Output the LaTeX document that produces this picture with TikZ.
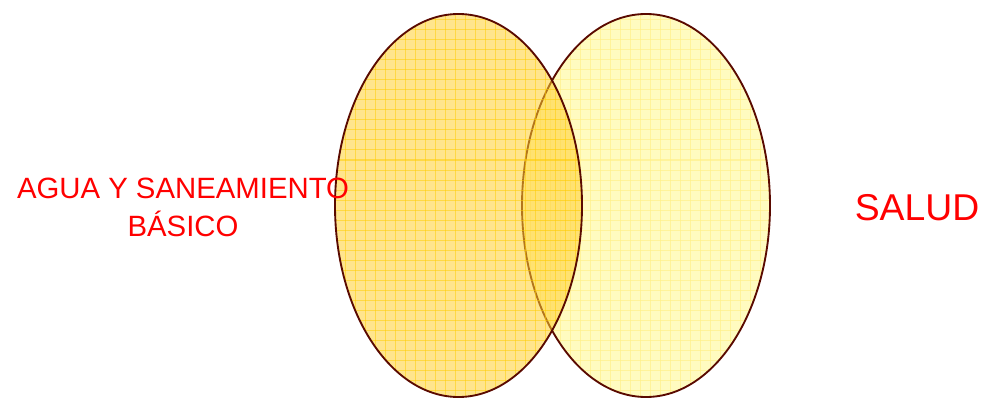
\documentclass[tikz,border=0pt]{standalone}
\usepackage{fontspec}
\setmainfont{Liberation Sans}
\usepackage{tikz}
\usetikzlibrary{positioning}
\definecolor{vnbrown}{HTML}{5A0A00}
\definecolor{vnorange}{HTML}{FFCF30}
\definecolor{vngridor}{HTML}{FFCC00}
\definecolor{vnpale}{HTML}{FFFBC0}
\definecolor{vngridpa}{HTML}{FFF08A}
\definecolor{vnred}{HTML}{FF0000}

\begin{document}
\begin{tikzpicture}[x=0.75pt,y=-0.75pt,
  rim/.style={vnbrown,line width=1.4pt},
  gridleft/.style={vngridor,line width=0.75pt,opacity=0.5},
  gridright/.style={vngridpa,line width=0.75pt,opacity=0.7},
  label/.style={text=vnred,inner sep=0pt,align=center}]
  \useasboundingbox (0,0) rectangle (984,399);
  \coordinate (cagua) at (458.5,205.5);
  \coordinate (csalud) at (646,205.5);
  % right set: salud
  \fill[vnpale] (csalud) ellipse [x radius=124, y radius=191.5];
  \begin{scope}
    \clip (csalud) ellipse [x radius=124, y radius=191.5];
    \foreach \gx in {520,530,...,780}{ \draw[gridright] (\gx,0) -- (\gx,399);}
    \foreach \gy in {10,20,...,400}{ \draw[gridright] (515,\gy) -- (780,\gy);}
  \end{scope}
  \draw[rim] (csalud) ellipse [x radius=124, y radius=191.5];
  % left set: agua y saneamiento, see-through over the right one
  \fill[vnorange,opacity=0.55] (cagua) ellipse [x radius=123.5, y radius=191.5];
  \begin{scope}
    \clip (cagua) ellipse [x radius=123.5, y radius=191.5];
    \foreach \gx in {335,345,...,595}{ \draw[gridleft] (\gx,0) -- (\gx,399);}
    \foreach \gy in {10,20,...,400}{ \draw[gridleft] (330,\gy) -- (590,\gy);}
  \end{scope}
  \draw[rim] (cagua) ellipse [x radius=123.5, y radius=191.5];
  % labels
  \node[label,font=\fontsize{22}{28.5}\selectfont] (agua) at (183,207.5) {AGUA Y SANEAMIENTO\\BÁSICO};
  \node[label,font=\fontsize{28}{34}\selectfont] (salud) at (917,208) {SALUD};
\end{tikzpicture}
\end{document}
